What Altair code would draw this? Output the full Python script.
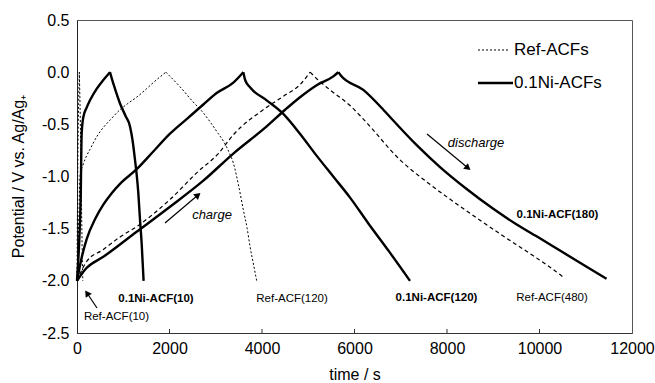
import altair as alt
import pandas as pd

# ---- curve data (time / s, potential / V) ----
ref10_t = [0, 10, 22, 35, 50, 65, 80, 95, 110, 125]
ref10_v = [-2.0, -1.3, -0.7, -0.3, 0.0, -0.3, -0.7, -1.2, -1.65, -2.0]

ni10_t = [0, 50, 80, 101, 137, 209, 281, 425, 560, 713, 800, 930, 1050, 1146, 1200, 1254, 1290, 1326, 1360, 1398, 1440]
ni10_v = [-2.0, -1.6, -1.2, -0.59, -0.43, -0.34, -0.27, -0.16, -0.08, 0.0, -0.13, -0.30, -0.42, -0.52, -0.65, -0.84, -0.98, -1.16, -1.4, -1.64, -2.0]

ref120_t = [0, 40, 65, 137, 209, 281, 425, 569, 713, 930, 1100, 1290, 1500, 1650, 1920,
            2227, 2500, 2731, 2900, 3056, 3164, 3300, 3380, 3500, 3596, 3680, 3741, 3820, 3885]
ref120_v = [-2.0, -1.4, -1.0, -0.88, -0.80, -0.74, -0.62, -0.53, -0.46, -0.36, -0.30, -0.24, -0.16, -0.1, 0.0,
            -0.14, -0.28, -0.39, -0.49, -0.59, -0.66, -0.78, -0.87, -1.1, -1.32, -1.5, -1.67, -1.85, -2.0]

ni120_t = [0, 100, 209, 400, 569, 750, 930, 1290, 1650, 2011, 2371, 2731, 3020, 3380, 3596,
           3640, 3750, 4100, 4460, 4820, 5180, 5540, 5900, 6300, 6750, 7200]
ni120_v = [-2.0, -1.78, -1.60, -1.40, -1.27, -1.16, -1.07, -0.93, -0.76, -0.59, -0.45, -0.31, -0.20, -0.10, 0.0,
           -0.08, -0.15, -0.27, -0.40, -0.59, -0.80, -1.0, -1.2, -1.45, -1.72, -2.0]

ref480_t = [0, 200, 569, 930, 1290, 2011, 2600, 3056, 3380, 4060, 4500, 4822, 5040,
            5200, 5470, 5903, 6191, 6984, 7705, 8425, 9146, 9866, 10443, 10500]
ref480_v = [-2.0, -1.82, -1.70, -1.58, -1.48, -1.22, -0.96, -0.78, -0.60, -0.35, -0.22, -0.12, 0.0,
            -0.07, -0.17, -0.32, -0.45, -0.84, -1.10, -1.33, -1.55, -1.76, -1.94, -1.96]

ni180_t = [0, 200, 569, 1290, 2011, 2731, 3380, 4101, 4500, 4822, 5200, 5542, 5650,
           5700, 6191, 6623, 6768, 7345, 7849, 8425, 9000, 9507, 10000, 10443, 11000, 11450]
ni180_v = [-2.0, -1.88, -1.77, -1.53, -1.29, -1.04, -0.78, -0.52, -0.36, -0.24, -0.12, -0.04, 0.0,
           -0.03, -0.17, -0.36, -0.43, -0.70, -0.91, -1.12, -1.31, -1.46, -1.59, -1.71, -1.86, -1.98]

# ---- annotation texts ----
bold_labels = ["0.1Ni-ACF(10)", "0.1Ni-ACF(120)", "0.1Ni-ACF(180)"]
bold_x = [1708, 7773, 10389]
bold_y = [-2.174, -2.164, -1.369]

plain_labels = ["Ref-ACF(120)", "Ref-ACF(10)", "Ref-ACF(480)"]
plain_x = [4649, 854, 10270]
plain_y = [-2.174, -2.347, -2.164]

italic_labels = ["charge", "discharge"]
italic_x = [2919, 8627]
italic_y = [-1.369, -0.679]

# arrows: start -> tip
arrow_x1 = [432, 1903, 7568]
arrow_y1 = [-2.26, -1.446, -0.593]
arrow_x2 = [216, 2616, 8454]
arrow_y2 = [-2.117, -1.178, -0.919]
arrow_angle = [326, 50, 130]

legend_labels = ["Ref-ACFs", "0.1Ni-ACFs"]
legend_x1 = [8670, 8670]
legend_x2 = [9319, 9427]
legend_y = [0.2125, -0.104]
legend_text_x = [9449, 9449]

tick_positions = [2000, 4000, 6000, 8000, 10000]

FONT = "Liberation Sans"


def curve(name, t, v):
    # split each cycle into its charge and discharge branch so the peak stays sharp
    peak = v.index(max(v))
    rows = []
    for i, (a, b) in enumerate(zip(t, v)):
        if i <= peak:
            rows.append((name + "_c", a, b, i))
        if i >= peak:
            rows.append((name + "_d", a, b, i))
    return pd.DataFrame(rows, columns=["curve", "t", "v", "order"])


solid_df = pd.concat([curve("ni10", ni10_t, ni10_v), curve("ni120", ni120_t, ni120_v),
                      curve("ni180", ni180_t, ni180_v)])
dotted_df = pd.concat([curve("ref10", ref10_t, ref10_v), curve("ref120", ref120_t, ref120_v)])
dashed_df = curve("ref480", ref480_t, ref480_v)

xscale = alt.Scale(domain=[0, 12000], nice=False, zero=False)
yscale = alt.Scale(domain=[-2.5, 0.5], nice=False, zero=False)

xaxis = alt.Axis(title="time / s", values=[0, 2000, 4000, 6000, 8000, 10000, 12000], format="d",
                 grid=False, ticks=False, labelPadding=7, domainColor="#333", labelFlush=False,
                 titleY=41, titleBaseline="middle", titleFontWeight="normal")
yaxis = alt.Axis(title="Potential / V vs. Ag/Ag\u208a", values=[-2.5, -2.0, -1.5, -1.0, -0.5, 0.0, 0.5],
                 labelExpr="datum.value < 0 ? '-' + format(-datum.value, '.1f') : format(datum.value, '.1f')",
                 grid=False, ticks=False, labelPadding=8, domainColor="#222", labelFlush=False,
                 titleX=-59, titleY=156, titleAngle=270, titleAlign="center", titleBaseline="middle",
                 titleFontWeight="normal")

X = alt.X("t:Q", scale=xscale, axis=xaxis)
Y = alt.Y("v:Q", scale=yscale, axis=yaxis)

solid = alt.Chart(solid_df).mark_line(color="black", strokeWidth=2.4, interpolate="monotone").encode(
    x=X, y=Y, detail="curve:N", order="order:Q")
dotted = alt.Chart(dotted_df).mark_line(color="black", strokeWidth=1, strokeDash=[2, 2],
                                        interpolate="monotone").encode(
    x="t:Q", y="v:Q", detail="curve:N", order="order:Q")
dashed = alt.Chart(dashed_df).mark_line(color="black", strokeWidth=1.2, strokeDash=[4, 3],
                                        interpolate="monotone").encode(
    x="t:Q", y="v:Q", detail="curve:N", order="order:Q")

bold_df = pd.DataFrame({"label": bold_labels, "x": bold_x, "y": bold_y})
plain_df = pd.DataFrame({"label": plain_labels, "x": plain_x, "y": plain_y})
italic_df = pd.DataFrame({"label": italic_labels, "x": italic_x, "y": italic_y})

bold_txt = alt.Chart(bold_df).mark_text(font=FONT, fontSize=11.5, fontWeight="bold", color="black").encode(
    x="x:Q", y="y:Q", text="label:N")
plain_txt = alt.Chart(plain_df).mark_text(font=FONT, fontSize=11.5, color="black").encode(
    x="x:Q", y="y:Q", text="label:N")
italic_txt = alt.Chart(italic_df).mark_text(font=FONT, fontSize=13, fontStyle="italic", color="black").encode(
    x="x:Q", y="y:Q", text="label:N")

arrow_df = pd.DataFrame({"x1": arrow_x1, "y1": arrow_y1, "x2": arrow_x2, "y2": arrow_y2, "angle": arrow_angle})
arrow_shaft = alt.Chart(arrow_df).mark_rule(color="black", strokeWidth=1.2).encode(
    x="x1:Q", y="y1:Q", x2="x2:Q", y2="y2:Q")
arrow_head = alt.Chart(arrow_df).mark_point(shape="triangle-up", filled=True, color="black", size=55, opacity=1).encode(
    x="x2:Q", y="y2:Q", angle=alt.Angle("angle:Q", scale=None))

leg_df = pd.DataFrame({"label": legend_labels, "x1": legend_x1, "x2": legend_x2, "y": legend_y,
                       "tx": legend_text_x})
leg_dot = alt.Chart(leg_df.iloc[[0]]).mark_rule(color="black", strokeWidth=1, strokeDash=[2, 2]).encode(
    x="x1:Q", x2="x2:Q", y="y:Q")
leg_solid = alt.Chart(leg_df.iloc[[1]]).mark_rule(color="black", strokeWidth=2.4).encode(
    x="x1:Q", x2="x2:Q", y="y:Q")
leg_txt = alt.Chart(leg_df).mark_text(font=FONT, fontSize=17, align="left", baseline="middle", color="black").encode(
    x="tx:Q", y="y:Q", text="label:N")

tick_df = pd.DataFrame({"x": tick_positions, "y0": [-2.5] * 5, "y1": [-2.462] * 5})
ticks = alt.Chart(tick_df).mark_rule(color="#333", strokeWidth=1).encode(
    x="x:Q", y="y0:Q", y2="y1:Q")

chart = alt.layer(solid, dotted, dashed, ticks, bold_txt, plain_txt, italic_txt, arrow_shaft, arrow_head,
                  leg_dot, leg_solid, leg_txt).properties(
    width=555, height=313,
    autosize=alt.AutoSizeParams(type="none"),
    padding={"left": 77, "top": 20, "right": 23, "bottom": 50},
    background="white",
).configure_view(stroke="#555", strokeWidth=1).configure_axis(
    labelFont=FONT, labelFontSize=16, labelColor="black",
    titleFont=FONT, titleFontSize=16, titleColor="black",
)

chart.save("out.html", embed_options={"renderer": "svg", "actions": False})
